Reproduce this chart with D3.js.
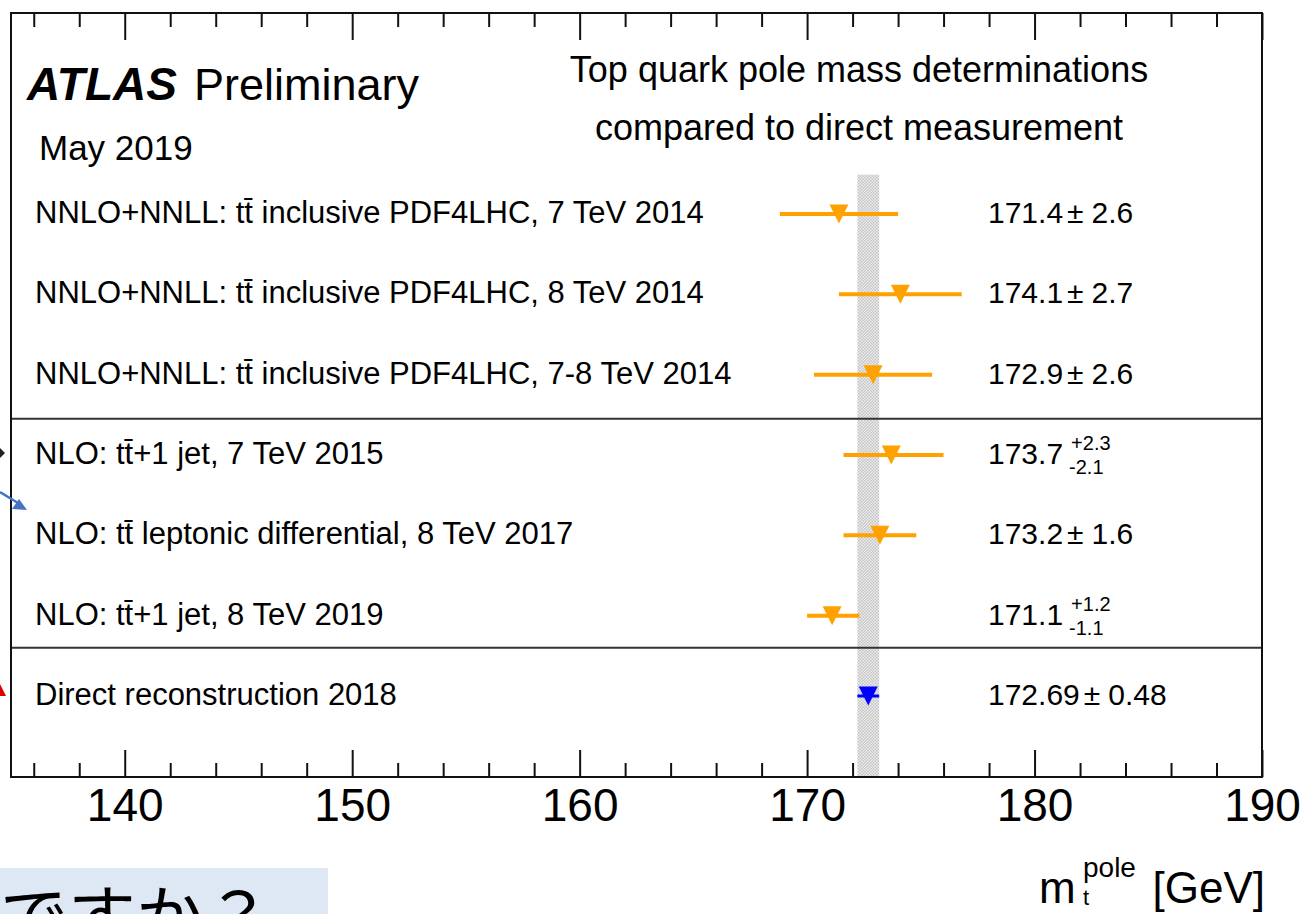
<!DOCTYPE html>
<html>
<head>
<meta charset="utf-8">
<script src="https://cdn.jsdelivr.net/npm/d3@7"></script>
<style>
  body { margin: 0; background: #fff; }
  text { font-family: "Liberation Sans", Arial, Helvetica, sans-serif; fill: #000; }
</style>
</head>
<body>
<div id="chart"></div>
<script>
var svgWidth = 1304;
var svgHeight = 914;

// frame of the ROOT pad, in pixels
var frame = { left: 11, right: 1262, top: 13, bottom: 777 };

var labels = [
  "NNLO+NNLL: tt\u0304 inclusive PDF4LHC, 7 TeV 2014",
  "NNLO+NNLL: tt\u0304 inclusive PDF4LHC, 8 TeV 2014",
  "NNLO+NNLL: tt\u0304 inclusive PDF4LHC, 7-8 TeV 2014",
  "NLO: tt\u0304+1 jet, 7 TeV 2015",
  "NLO: tt\u0304 leptonic differential, 8 TeV 2017",
  "NLO: tt\u0304+1 jet, 8 TeV 2019",
  "Direct reconstruction 2018"
];
var centralValues = [171.4, 174.1, 172.9, 173.7, 173.2, 171.1, 172.69];
var errDown = [2.6, 2.7, 2.6, 2.1, 1.6, 1.1, 0.48];
var errUp = [2.6, 2.7, 2.6, 2.3, 1.6, 1.2, 0.48];
var valueText = ["171.4", "174.1", "172.9", "173.7", "173.2", "171.1", "172.69"];
var errDownText = ["2.6", "2.7", "2.6", "2.1", "1.6", "1.1", "0.48"];
var errUpText = ["2.6", "2.7", "2.6", "2.3", "1.6", "1.2", "0.48"];
var markerColors = ["#ffa200", "#ffa200", "#ffa200", "#ffa200", "#ffa200", "#ffa200", "#0000ff"];

var majorTicks = [140, 150, 160, 170, 180, 190];
var minorTicks = [136, 138, 142, 144, 146, 148, 152, 154, 156, 158, 162, 164, 166, 168,
                  172, 174, 176, 178, 182, 184, 186, 188];
// row positions (in row units) of the horizontal separator lines
var separators = [2.55, 5.4];
// the direct measurement band
var directIndex = 6;

var svg = d3.select("#chart").append("svg")
  .attr("width", svgWidth)
  .attr("height", svgHeight);

svg.append("rect").attr("width", svgWidth).attr("height", svgHeight).attr("fill", "#fff");

var x = d3.scaleLinear().domain([135, 190]).range([frame.left, frame.right]);
var y = d3.scaleLinear().domain([0, 6]).range([214, 696]);

// dotted fill like ROOT hatch style
var defs = svg.append("defs");
var pat = defs.append("pattern")
  .attr("id", "dots")
  .attr("width", 3).attr("height", 3)
  .attr("patternUnits", "userSpaceOnUse");
pat.append("rect").attr("width", 3).attr("height", 3).attr("fill", "#ededed");
pat.append("rect").attr("width", 1.5).attr("height", 1.5).attr("fill", "#c4c4c4");
pat.append("rect").attr("x", 1.5).attr("y", 1.5).attr("width", 1.5).attr("height", 1.5).attr("fill", "#c4c4c4");

var bandLo = centralValues[directIndex] - errDown[directIndex];
var bandHi = centralValues[directIndex] + errUp[directIndex];
svg.append("rect")
  .attr("x", x(bandLo))
  .attr("width", x(bandHi) - x(bandLo))
  .attr("y", y(-0.49))
  .attr("height", frame.bottom - y(-0.49))
  .attr("fill", "url(#dots)");

// separators
svg.selectAll(".sep")
  .data(separators)
  .enter()
  .append("line")
  .attr("class", "sep")
  .attr("x1", frame.left).attr("x2", frame.right)
  .attr("y1", d => y(d)).attr("y2", d => y(d))
  .attr("stroke", "#333").attr("stroke-width", 2);

// axes: bottom with labels, top with ticks only
function drawAxis(gen, ty, values, size, showLabels) {
  var axis = gen(x).tickValues(values).tickSizeInner(size).tickSizeOuter(0).tickPadding(11);
  if (!showLabels) axis.tickFormat("");
  var g = svg.append("g")
    .attr("transform", `translate(0, ${ty})`)
    .call(axis);
  g.select(".domain").remove();
  g.selectAll("line").attr("stroke", "#111").attr("stroke-width", 2);
  g.selectAll("text")
    .style("font-family", "'Liberation Sans', Arial, sans-serif")
    .style("font-size", "46px")
    .attr("fill", "#000");
  return g;
}
drawAxis(d3.axisBottom, frame.bottom, majorTicks, -27, true);
drawAxis(d3.axisBottom, frame.bottom, minorTicks, -14, false);
drawAxis(d3.axisTop, frame.top, majorTicks, -27, false);
drawAxis(d3.axisTop, frame.top, minorTicks, -14, false);

// frame
svg.append("rect")
  .attr("x", frame.left).attr("y", frame.top)
  .attr("width", frame.right - frame.left).attr("height", frame.bottom - frame.top)
  .attr("fill", "none").attr("stroke", "#111").attr("stroke-width", 2);

var rows = centralValues.map((v, i) => ({
  i: i, v: v, lo: v - errDown[i], hi: v + errUp[i], color: markerColors[i]
}));

// error bars
svg.selectAll(".err")
  .data(rows)
  .enter()
  .append("line")
  .attr("class", "err")
  .attr("x1", d => x(d.lo)).attr("x2", d => x(d.hi))
  .attr("y1", d => y(d.i)).attr("y2", d => y(d.i))
  .attr("stroke", d => d.color)
  .attr("stroke-width", d => d.i == directIndex ? 3 : 4);

// down triangles
svg.selectAll(".mark")
  .data(rows)
  .enter()
  .append("path")
  .attr("class", "mark")
  .attr("transform", d => `translate(${x(d.v)}, ${y(d.i)})`)
  .attr("d", "M-9.5,-9.5 L9.5,-9.5 L0,9.5 Z")
  .attr("fill", d => d.color);

// row labels
svg.selectAll(".lab")
  .data(labels)
  .enter()
  .append("text")
  .attr("class", "lab")
  .attr("x", 35)
  .attr("y", (d, i) => y(i) + 9)
  .style("font-size", "31px")
  .text(d => d);

// values
rows.forEach(function(d) {
  var ty = y(d.i) + 9;
  var t = svg.append("text")
    .attr("x", 988).attr("y", ty)
    .style("font-size", "30px")
    .text(valueText[d.i]);
  var w = t.node().getComputedTextLength();
  if (errUpText[d.i] == errDownText[d.i]) {
    var pm = svg.append("text")
      .attr("x", 988 + w + 4).attr("y", ty)
      .style("font-size", "30px")
      .text("\u00b1");
    var w2 = pm.node().getComputedTextLength();
    svg.append("text")
      .attr("x", 988 + w + 4 + w2 + 8).attr("y", ty)
      .style("font-size", "30px")
      .text(errUpText[d.i]);
  } else {
    svg.append("text")
      .attr("x", 988 + w + 8).attr("y", ty - 14)
      .style("font-size", "20px")
      .text("+" + errUpText[d.i]);
    svg.append("text")
      .attr("x", 988 + w + 6).attr("y", ty + 10)
      .style("font-size", "20px")
      .text("-" + errDownText[d.i]);
  }
});

// titles
svg.append("text")
  .attr("x", 27).attr("y", 100)
  .style("font-size", "46px").style("font-weight", "bold").style("font-style", "italic")
  .text("ATLAS");
svg.append("text")
  .attr("x", 194).attr("y", 100)
  .style("font-size", "45px")
  .text("Preliminary");
svg.append("text")
  .attr("x", 39).attr("y", 160)
  .style("font-size", "35px")
  .text("May 2019");
svg.append("text")
  .attr("x", 859).attr("y", 82)
  .attr("text-anchor", "middle")
  .style("font-size", "36px")
  .text("Top quark pole mass determinations");
svg.append("text")
  .attr("x", 859).attr("y", 140)
  .attr("text-anchor", "middle")
  .style("font-size", "36px")
  .text("compared to direct measurement");

// axis title m_t^pole [GeV]
svg.append("text").attr("x", 1039).attr("y", 903).style("font-size", "44px").text("m");
svg.append("text").attr("x", 1083).attr("y", 877).style("font-size", "28px").text("pole");
svg.append("text").attr("x", 1083).attr("y", 905).style("font-size", "22px").text("t");
svg.append("text").attr("x", 1265).attr("y", 903).attr("text-anchor", "end").style("font-size", "44px").text("[GeV]");

// slide decorations around the plot
svg.append("path").attr("d", "M0,448 L5,453 L0,458 Z").attr("fill", "#222");
svg.append("line").attr("x1", 0).attr("y1", 492).attr("x2", 18).attr("y2", 503)
  .attr("stroke", "#4472c4").attr("stroke-width", 2.5);
svg.append("path").attr("d", "M27,510 L12,509 L19,499 Z").attr("fill", "#4472c4");
svg.append("path").attr("d", "M0,684 L6,696 L0,696 Z").attr("fill", "#e00000");

svg.append("rect").attr("x", 0).attr("y", 868).attr("width", 328).attr("height", 46).attr("fill", "#dde8f4");
svg.append("text").attr("x", 0).attr("y", 942)
  .style("font-family", "'Noto Sans CJK JP', sans-serif")
  .style("font-size", "68px")
  .text("ですか？");
</script>
</body>
</html>
